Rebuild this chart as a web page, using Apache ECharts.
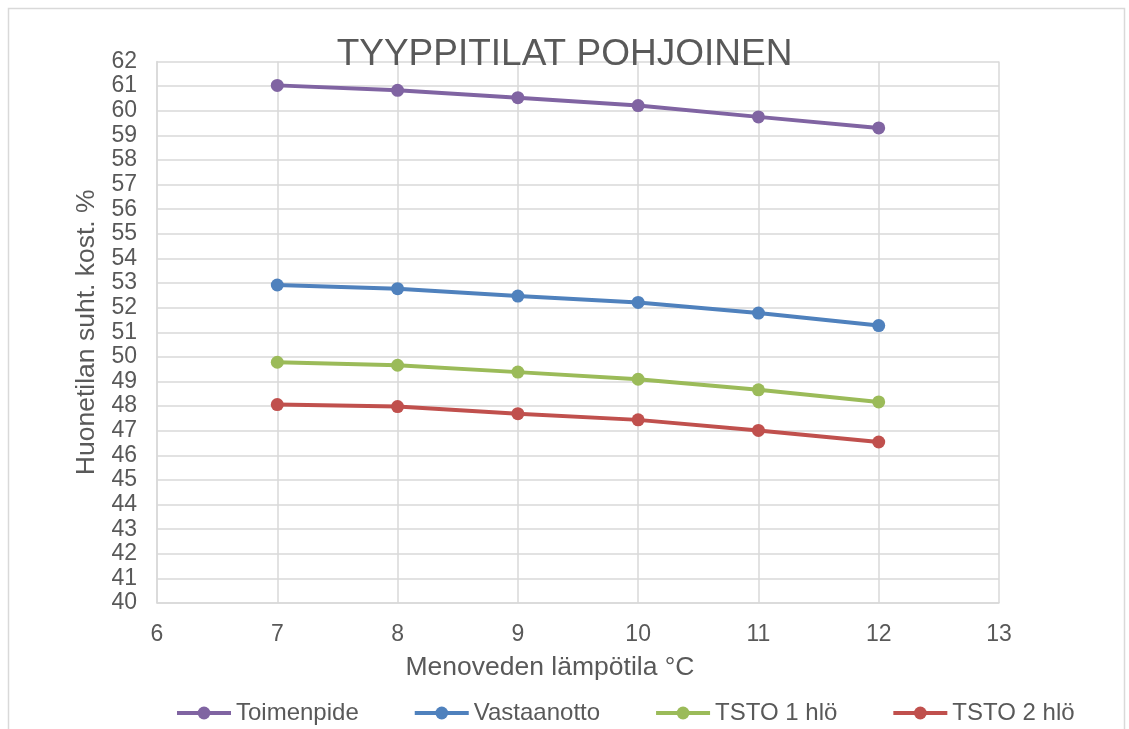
<!DOCTYPE html>
<html>
<head>
<meta charset="utf-8">
<script src="https://cdn.jsdelivr.net/npm/echarts@6/dist/echarts.min.js"></script>
<style>
  html, body { margin: 0; padding: 0; background: #ffffff; }
  #chart { width: 1129px; height: 729px; }
</style>
</head>
<body>
<div id="chart"></div>
<script>
// Supply water temperature (°C) on the x axis
const temperatures = [7, 8, 9, 10, 11, 12];

// Relative humidity of the room (%) per room type
const toimenpide  = [61.03, 60.83, 60.53, 60.21, 59.75, 59.30];
const vastaanotto = [52.92, 52.77, 52.47, 52.21, 51.78, 51.27];
const tsto1       = [49.78, 49.66, 49.38, 49.09, 48.66, 48.17];
const tsto2       = [48.06, 47.98, 47.69, 47.44, 47.01, 46.54];

const seriesNames  = ['Toimenpide', 'Vastaanotto', 'TSTO 1 hlö', 'TSTO 2 hlö'];
const seriesValues = [toimenpide, vastaanotto, tsto1, tsto2];
const seriesColors = ['#8064A2', '#4F81BD', '#9BBB59', '#C0504D'];

const textColor = '#595959';
const gridColor = '#D9D9D9';
const fontFamily = '"Liberation Sans", Arial, sans-serif';

const chart = echarts.init(document.getElementById('chart'), null, { renderer: 'canvas' });

chart.setOption({
  backgroundColor: '#ffffff',
  animation: false,
  textStyle: { fontFamily: fontFamily, color: textColor },
  graphic: [{
    type: 'rect',
    shape: { x: 8.5, y: 8.5, width: 1116, height: 740 },
    style: { fill: 'none', stroke: gridColor, lineWidth: 1.5 },
    silent: true
  }],
  title: {
    text: 'TYYPPITILAT POHJOINEN',
    left: 'center',
    top: 31,
    textStyle: { fontFamily: fontFamily, fontSize: 37, fontWeight: 'normal', color: textColor }
  },
  legend: {
    left: 170,
    top: 696,
    itemWidth: 54,
    itemHeight: 16,
    itemGap: 54,
    data: seriesNames,
    lineStyle: { width: 4 },
    textStyle: { fontFamily: fontFamily, fontSize: 24, color: textColor }
  },
  grid: { left: 157, right: 130, top: 61.5, bottom: 126, containLabel: false },
  xAxis: {
    type: 'value',
    min: 6,
    max: 13,
    interval: 1,
    name: 'Menoveden lämpötila °C',
    nameLocation: 'middle',
    nameGap: 51,
    nameTextStyle: { fontFamily: fontFamily, fontSize: 26.5, color: textColor, padding: [0, 56, 0, 0] },
    axisLine: { show: true, lineStyle: { color: gridColor, width: 1.5 } },
    axisTick: { show: false },
    axisLabel: { margin: 20, fontSize: 23, color: textColor, fontFamily: fontFamily },
    splitLine: { show: true, lineStyle: { color: gridColor, width: 1.5 } }
  },
  yAxis: {
    type: 'value',
    min: 40,
    max: 62,
    interval: 1,
    name: 'Huonetilan suht. kost. %',
    nameLocation: 'middle',
    nameGap: 57,
    nameRotate: 90,
    nameTextStyle: { fontFamily: fontFamily, fontSize: 26.5, color: textColor },
    axisLine: { show: true, lineStyle: { color: gridColor, width: 1.5 } },
    axisTick: { show: false },
    axisLabel: { margin: 20, fontSize: 23, color: textColor, fontFamily: fontFamily },
    splitLine: { show: true, lineStyle: { color: gridColor, width: 1.5 } }
  },
  series: seriesNames.map((name, i) => ({
    name: name,
    type: 'line',
    data: temperatures.map((t, j) => [t, seriesValues[i][j]]),
    symbol: 'circle',
    symbolSize: 13,
    lineStyle: { color: seriesColors[i], width: 4 },
    itemStyle: { color: seriesColors[i] }
  }))
});
</script>
</body>
</html>
